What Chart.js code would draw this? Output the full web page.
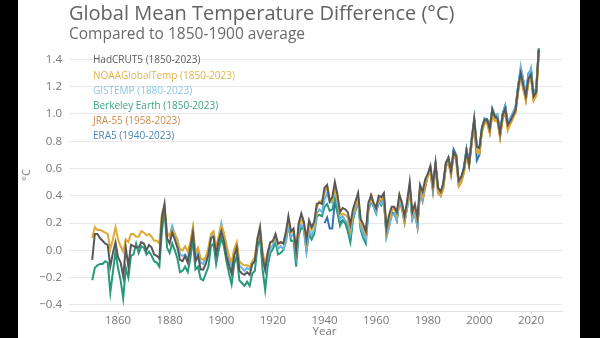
<!DOCTYPE html>
<html>
<head>
<meta charset="utf-8">
<script src="https://cdn.jsdelivr.net/npm/chart.js@4.4.1/dist/chart.umd.min.js"></script>
<style>
  html, body { margin: 0; padding: 0; background: #000; width: 600px; height: 338px; overflow: hidden; }
  #wrap { position: absolute; left: 18px; top: 0; width: 562px; height: 338px; background: #fff; }
  canvas { display: block; }
</style>
</head>
<body>
<div id="wrap"><canvas id="c" width="562" height="338"></canvas></div>
<script>
// ---------------- DATA ----------------
const titleText = "Global Mean Temperature Difference (\u00B0C)";
const subtitleText = "Compared to 1850-1900 average";
const xTitle = "Year";
const yTitle = "\u00B0C";

const seriesNames = [
  "HadCRUT5 (1850-2023)",
  "NOAAGlobalTemp (1850-2023)",
  "GISTEMP (1880-2023)",
  "Berkeley Earth (1850-2023)",
  "JRA-55 (1958-2023)",
  "ERA5 (1940-2023)"
];
const seriesStartYears = [1850, 1850, 1880, 1850, 1958, 1940];

const hadcrut5 = [
  -0.07, 0.12, 0.12, 0.09, 0.07, 0.05, 0.04, -0.12, -0.02, 0.06,
  -0.05, -0.09, -0.19, 0.02, -0.12, 0.04, 0.03, 0.02, 0.02, 0.06,
  0.05, 0.00, 0.04, 0.02, -0.03, -0.04, -0.06, 0.24, 0.34, 0.09,
  0.05, 0.13, 0.08, 0.02, -0.07, -0.08, -0.04, -0.09, 0.02, 0.13,
  -0.08, -0.04, -0.14, -0.14, -0.10, -0.03, 0.09, 0.10, -0.03, 0.07,
  0.14, 0.07, -0.04, -0.11, -0.17, -0.04, 0.02, -0.15, -0.17, -0.18,
  -0.16, -0.18, -0.10, -0.08, 0.08, 0.17, -0.05, -0.14, -0.02, 0.06,
  0.07, 0.12, 0.05, 0.06, 0.05, 0.13, 0.25, 0.14, 0.16, 0.00,
  0.20, 0.27, 0.21, 0.08, 0.22, 0.17, 0.21, 0.34, 0.35, 0.34,
  0.46, 0.48, 0.36, 0.39, 0.50, 0.41, 0.28, 0.31, 0.30, 0.28,
  0.19, 0.30, 0.36, 0.42, 0.23, 0.19, 0.14, 0.35, 0.40, 0.35,
  0.31, 0.40, 0.39, 0.42, 0.16, 0.26, 0.32, 0.32, 0.28, 0.41,
  0.35, 0.25, 0.36, 0.50, 0.28, 0.34, 0.24, 0.48, 0.43, 0.52,
  0.56, 0.62, 0.48, 0.64, 0.46, 0.43, 0.49, 0.64, 0.68, 0.58,
  0.72, 0.69, 0.51, 0.54, 0.60, 0.73, 0.63, 0.81, 0.96, 0.76,
  0.75, 0.90, 0.96, 0.96, 0.89, 1.03, 0.98, 0.97, 0.86, 0.99,
  1.04, 0.92, 0.95, 0.99, 1.03, 1.19, 1.30, 1.21, 1.13, 1.26,
  1.29, 1.13, 1.16, 1.47
];
const noaaGlobalTemp = [
  0.09, 0.17, 0.15, 0.15, 0.14, 0.13, 0.12, 0.01, 0.08, 0.17,
  0.08, 0.03, -0.01, 0.08, 0.06, 0.12, 0.12, 0.10, 0.10, 0.14,
  0.13, 0.11, 0.12, 0.10, 0.07, 0.07, 0.05, 0.27, 0.33, 0.13,
  0.10, 0.15, 0.12, 0.07, 0.01, 0.00, 0.03, -0.01, 0.06, 0.17,
  -0.01, 0.02, -0.06, -0.07, -0.05, 0.02, 0.12, 0.14, 0.02, 0.10,
  0.18, 0.13, 0.04, -0.04, -0.09, 0.01, 0.06, -0.08, -0.10, -0.11,
  -0.11, -0.12, -0.08, -0.05, 0.09, 0.16, -0.01, -0.10, -0.01, 0.06,
  0.06, 0.11, 0.04, 0.06, 0.05, 0.12, 0.22, 0.13, 0.14, -0.01,
  0.18, 0.23, 0.19, 0.06, 0.19, 0.15, 0.19, 0.31, 0.36, 0.36,
  0.42, 0.47, 0.37, 0.36, 0.46, 0.37, 0.26, 0.27, 0.26, 0.24,
  0.15, 0.27, 0.33, 0.39, 0.20, 0.16, 0.12, 0.33, 0.38, 0.34,
  0.31, 0.38, 0.37, 0.40, 0.13, 0.22, 0.29, 0.31, 0.26, 0.40,
  0.34, 0.22, 0.34, 0.47, 0.26, 0.31, 0.22, 0.46, 0.40, 0.49,
  0.54, 0.58, 0.47, 0.62, 0.42, 0.40, 0.46, 0.62, 0.66, 0.56,
  0.70, 0.67, 0.48, 0.51, 0.57, 0.70, 0.62, 0.79, 0.94, 0.72,
  0.71, 0.87, 0.93, 0.93, 0.86, 1.00, 0.95, 0.95, 0.83, 0.97,
  1.02, 0.88, 0.93, 0.97, 1.02, 1.17, 1.28, 1.18, 1.10, 1.23,
  1.27, 1.10, 1.13, 1.45
];
const gistemp = [
  0.11, 0.18, 0.12, 0.08, -0.03, -0.04, -0.03, -0.07, 0.04, 0.16,
  -0.06, 0.00, -0.09, -0.10, -0.05, -0.03, 0.10, 0.12, -0.03, 0.10,
  0.20, 0.12, 0.03, -0.06, -0.12, 0.00, 0.04, -0.11, -0.13, -0.15,
  -0.13, -0.14, -0.10, -0.09, 0.08, 0.14, -0.06, -0.15, -0.05, 0.01,
  0.04, 0.09, 0.01, 0.03, 0.01, 0.06, 0.20, 0.10, 0.12, -0.04,
  0.15, 0.19, 0.16, 0.00, 0.15, 0.11, 0.15, 0.27, 0.30, 0.28,
  0.37, 0.42, 0.35, 0.35, 0.46, 0.34, 0.23, 0.25, 0.22, 0.20,
  0.12, 0.24, 0.30, 0.38, 0.17, 0.12, 0.08, 0.31, 0.37, 0.32,
  0.28, 0.36, 0.34, 0.37, 0.10, 0.17, 0.25, 0.27, 0.22, 0.36,
  0.32, 0.21, 0.31, 0.45, 0.22, 0.27, 0.18, 0.43, 0.37, 0.49,
  0.54, 0.61, 0.45, 0.63, 0.44, 0.40, 0.46, 0.62, 0.68, 0.57,
  0.72, 0.69, 0.49, 0.52, 0.59, 0.74, 0.65, 0.80, 0.95, 0.76,
  0.75, 0.90, 0.97, 0.96, 0.90, 1.04, 0.99, 1.00, 0.87, 1.00,
  1.06, 0.94, 0.97, 1.01, 1.05, 1.20, 1.35, 1.25, 1.15, 1.28,
  1.34, 1.15, 1.17, 1.47
];
const berkeleyEarth = [
  -0.22, -0.13, -0.11, -0.10, -0.10, -0.08, -0.09, -0.31, -0.16, -0.01,
  -0.13, -0.22, -0.35, -0.13, -0.20, -0.04, -0.03, 0.05, -0.02, 0.03,
  0.02, -0.03, -0.01, -0.04, -0.08, -0.09, -0.12, 0.14, 0.30, 0.02,
  -0.02, 0.05, 0.00, -0.06, -0.16, -0.15, -0.12, -0.16, -0.06, 0.08,
  -0.14, -0.12, -0.21, -0.22, -0.17, -0.12, 0.03, 0.05, -0.10, 0.00,
  0.09, 0.03, -0.08, -0.17, -0.25, -0.10, -0.04, -0.22, -0.24, -0.26,
  -0.23, -0.26, -0.17, -0.15, 0.02, 0.09, -0.14, -0.29, -0.11, -0.02,
  0.01, 0.06, -0.03, -0.02, 0.00, 0.06, 0.19, 0.07, 0.07, -0.12,
  0.11, 0.17, 0.15, -0.01, 0.12, 0.08, 0.12, 0.25, 0.26, 0.25,
  0.32, 0.34, 0.29, 0.30, 0.38, 0.28, 0.18, 0.22, 0.20, 0.14,
  0.06, 0.22, 0.29, 0.36, 0.15, 0.09, 0.05, 0.29, 0.36, 0.32,
  0.27, 0.36, 0.33, 0.37, 0.10, 0.18, 0.27, 0.27, 0.22, 0.36,
  0.32, 0.22, 0.31, 0.46, 0.24, 0.30, 0.19, 0.45, 0.40, 0.50,
  0.55, 0.60, 0.47, 0.63, 0.45, 0.42, 0.49, 0.64, 0.68, 0.58,
  0.72, 0.70, 0.50, 0.53, 0.60, 0.74, 0.64, 0.82, 0.97, 0.76,
  0.75, 0.90, 0.96, 0.96, 0.90, 1.04, 0.99, 0.98, 0.87, 1.00,
  1.06, 0.94, 0.97, 1.01, 1.05, 1.20, 1.32, 1.23, 1.15, 1.28,
  1.32, 1.15, 1.19, 1.48
];
const jra55 = [
  0.42, 0.33,
  0.33, 0.35, 0.36, 0.38, 0.13, 0.20, 0.26, 0.27, 0.22, 0.37,
  0.30, 0.20, 0.33, 0.45, 0.23, 0.27, 0.17, 0.43, 0.36, 0.46,
  0.55, 0.58, 0.43, 0.62, 0.42, 0.40, 0.45, 0.61, 0.65, 0.55,
  0.70, 0.66, 0.47, 0.50, 0.57, 0.71, 0.62, 0.78, 0.94, 0.72,
  0.72, 0.87, 0.94, 0.94, 0.86, 1.00, 0.95, 0.95, 0.83, 0.96,
  1.01, 0.89, 0.93, 0.97, 1.01, 1.16, 1.28, 1.19, 1.10, 1.24,
  1.27, 1.10, 1.14, 1.45
];
const era5 = [
  0.20, 0.24, 0.16, 0.16, 0.36, 0.28, 0.20, 0.22, 0.20, 0.17,
  0.08, 0.24, 0.30, 0.38, 0.17, 0.12, 0.10, 0.32, 0.40, 0.33,
  0.30, 0.37, 0.36, 0.39, 0.12, 0.21, 0.28, 0.27, 0.24, 0.38,
  0.32, 0.21, 0.34, 0.46, 0.24, 0.29, 0.18, 0.44, 0.39, 0.47,
  0.55, 0.60, 0.45, 0.63, 0.44, 0.42, 0.48, 0.63, 0.67, 0.57,
  0.74, 0.70, 0.49, 0.53, 0.61, 0.74, 0.63, 0.79, 0.95, 0.66,
  0.70, 0.89, 0.95, 0.96, 0.88, 1.03, 0.97, 0.98, 0.84, 1.00,
  1.06, 0.91, 0.96, 0.99, 1.03, 1.20, 1.33, 1.25, 1.13, 1.30,
  1.32, 1.12, 1.18, 1.48
];
const seriesValues = [hadcrut5, noaaGlobalTemp, gistemp, berkeleyEarth, jra55, era5];

const xTickYears = [1860, 1880, 1900, 1920, 1940, 1960, 1980, 2000, 2020];
const yTickValues = [-0.4, -0.2, 0.0, 0.2, 0.4, 0.6, 0.8, 1.0, 1.2, 1.4];

// ---------------- STYLE ----------------
const lineColors = ["#585858", "#DDAA33", "#6AB4E6", "#26997A", "#D0742C", "#2F74B0"];
const legendColors = ["#5c5c5c", "#E0B44A", "#8CC6E6", "#3FA386", "#CF8A4A", "#4D84B8"];
const FONT = "'Open Sans', 'Noto Sans', sans-serif";

const datasets = seriesValues.map((vals, i) => ({
  label: seriesNames[i],
  data: vals.map((v, k) => ({ x: seriesStartYears[i] + k, y: v })),
  borderColor: lineColors[i],
  backgroundColor: lineColors[i],
  borderWidth: 2,
  pointRadius: 0,
  tension: 0,
  fill: false,
  order: i
}));

const textPlugin = {
  id: 'textPlugin',
  afterDraw(chart) {
    const ctx = chart.ctx;
    ctx.save();
    ctx.textAlign = 'left';
    ctx.textBaseline = 'middle';
    ctx.fillStyle = '#636363';
    ctx.font = "20px " + FONT;
    ctx.fillText(titleText, 51, 14);
    ctx.fillStyle = '#6a6a6a';
    ctx.font = "15.5px " + FONT;
    ctx.fillText(subtitleText, 51, 34.5);
    ctx.font = "10px " + FONT;
    chart.data.datasets.forEach((ds, i) => {
      ctx.fillStyle = legendColors[i];
      ctx.fillText(ds.label, 75, 60.5 + i * 15.2);
    });
    // x-axis title, centred under the 1940 tick as in the reference
    ctx.textAlign = 'center';
    ctx.fillStyle = '#777';
    ctx.font = "11.5px " + FONT;
    const xs = chart.scales.x;
    ctx.fillText(xTitle, xs.getPixelForValue(1940), 332);
    ctx.restore();
  }
};

new Chart(document.getElementById('c'), {
  type: 'line',
  data: { datasets },
  plugins: [textPlugin],
  options: {
    responsive: false,
    animation: false,
    events: [],
    layout: { padding: { top: 39, right: 18, left: 0, bottom: 0 } },
    plugins: { legend: { display: false }, tooltip: { enabled: false }, title: { display: false } },
    scales: {
      x: {
        type: 'linear',
        min: 1841,
        max: 2032,
        afterBuildTicks: s => { s.ticks = xTickYears.map(v => ({ value: v })); },
        afterFit: s => { s.height = 27; },
        grid: { drawOnChartArea: false, drawTicks: true, tickLength: 3, color: '#d0d0d0' },
        border: { display: true, color: '#e2e2e2' },
        ticks: { color: '#777', font: { family: FONT, size: 11.5 }, padding: 0, maxRotation: 0, callback: v => String(v) },
        title: { display: false }
      },
      y: {
        min: -0.445,
        max: 1.55,
        afterBuildTicks: s => { s.ticks = yTickValues.map(v => ({ value: v })); },
        afterFit: s => { s.width = 51; },
        grid: { color: '#e8e8e8', drawTicks: false, lineWidth: 1 },
        border: { display: false },
        ticks: { color: '#777', font: { family: FONT, size: 11.5 }, padding: 7,
                 callback: v => v.toFixed(1).replace('-', '\u2212') },
        title: { display: true, text: yTitle, color: '#777', font: { family: FONT, size: 11 }, padding: { top: 2, bottom: 0 } }
      }
    }
  }
});
</script>
</body>
</html>
